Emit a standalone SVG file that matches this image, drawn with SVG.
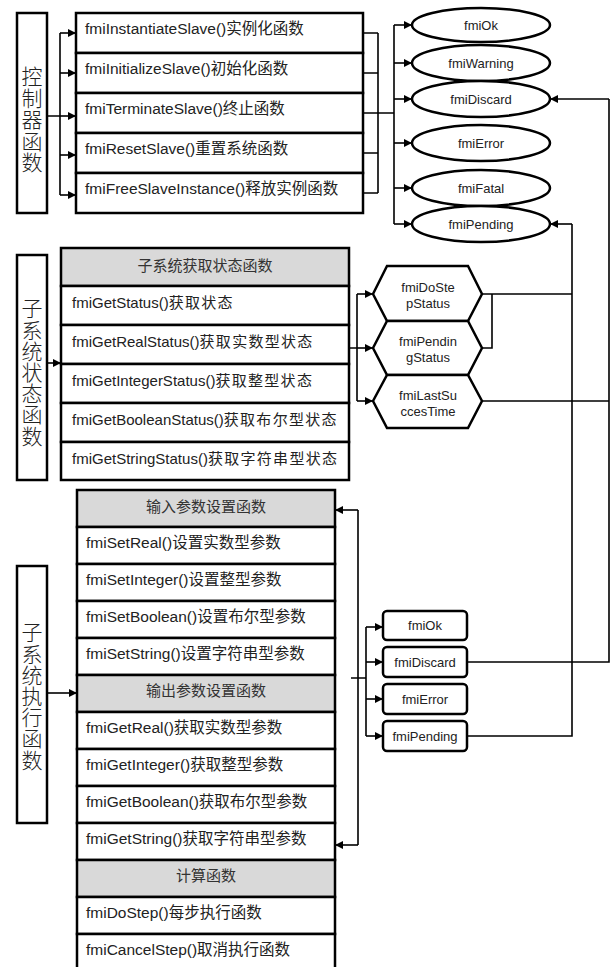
<svg xmlns="http://www.w3.org/2000/svg" width="611" height="967" viewBox="0 0 611 967">
<defs>
<marker id="ar" markerUnits="userSpaceOnUse" markerWidth="9" markerHeight="8" refX="8" refY="4" orient="auto"><path d="M0,0 L8,4 L0,8 z" fill="#000"/></marker>
<style>
.box{fill:#fff;stroke:#000;stroke-width:2.5}
.hd{fill:#d9d9d9;stroke:#000;stroke-width:2.5}
.t{font-family:"Liberation Sans","Noto Sans CJK SC",sans-serif;font-size:15px;fill:#222}
.t1{font-size:15.5px}
.w{letter-spacing:1.3px}
.c{font-family:"Liberation Sans","Noto Sans CJK SC",sans-serif;font-size:15px;fill:#333;text-anchor:middle}
.lab{font-family:"Noto Sans CJK SC",sans-serif;font-size:21px;font-weight:300;fill:#222;writing-mode:vertical-rl}
.s{font-family:"Liberation Sans",sans-serif;font-size:13px;fill:#222;text-anchor:middle}
.ln{fill:none;stroke:#000;stroke-width:1.6}
.la{fill:none;stroke:#000;stroke-width:1.6;marker-end:url(#ar)}
.sh{fill:#fff;stroke:#000;stroke-width:2.5}
</style>
</defs>

<g id="label-ctrl">
<rect class="box" x="17" y="13" width="30" height="200"/>
<text class="lab" x="32" y="66" letter-spacing="0.5">控制器函数</text>
</g>
<g id="ctrl-funcs">
<rect class="box" x="76" y="13" width="287" height="40"/>
<rect class="box" x="76" y="53" width="287" height="40"/>
<rect class="box" x="76" y="93" width="287" height="40"/>
<rect class="box" x="76" y="133" width="287" height="40"/>
<rect class="box" x="76" y="173" width="287" height="40"/>
<text class="t t1" x="85" y="34">fmiInstantiateSlave()实例化函数</text>
<text class="t t1" x="85" y="74">fmiInitializeSlave()初始化函数</text>
<text class="t t1" x="85" y="114">fmiTerminateSlave()终止函数</text>
<text class="t t1" x="85" y="154">fmiResetSlave()重置系统函数</text>
<text class="t t1" x="85" y="194">fmiFreeSlaveInstance()释放实例函数</text>
</g>
<g id="status-ellipses">
<ellipse class="sh" cx="481" cy="25" rx="69" ry="17"/>
<ellipse class="sh" cx="481" cy="63" rx="69" ry="18"/>
<ellipse class="sh" cx="481" cy="99" rx="69" ry="18"/>
<ellipse class="sh" cx="481" cy="143" rx="69" ry="18"/>
<ellipse class="sh" cx="481" cy="188" rx="69" ry="18"/>
<ellipse class="sh" cx="481" cy="224" rx="69" ry="18"/>
<text class="s" x="481" y="30">fmiOk</text>
<text class="s" x="481" y="68">fmiWarning</text>
<text class="s" x="481" y="104">fmiDiscard</text>
<text class="s" x="481" y="148">fmiError</text>
<text class="s" x="481" y="193">fmiFatal</text>
<text class="s" x="481" y="229">fmiPending</text>
</g>

<g id="label-status">
<rect class="box" x="17" y="255" width="30" height="225"/>
<text class="lab" x="32" y="298" letter-spacing="0.2">子系统状态函数</text>
</g>
<g id="status-funcs">
<rect class="hd" x="61" y="248" width="288" height="38"/>
<rect class="box" x="61" y="286" width="288" height="39"/>
<rect class="box" x="61" y="325" width="288" height="39"/>
<rect class="box" x="61" y="364" width="288" height="39"/>
<rect class="box" x="61" y="403" width="288" height="39"/>
<rect class="box" x="61" y="442" width="288" height="38"/>
<text class="c" x="205" y="271">子系统获取状态函数</text>
<text class="t" x="72" y="308">fmiGetStatus()<tspan class="w">获取状态</tspan></text>
<text class="t" x="72" y="347">fmiGetRealStatus()<tspan class="w">获取实数型状态</tspan></text>
<text class="t" x="72" y="386">fmiGetIntegerStatus()<tspan class="w">获取整型状态</tspan></text>
<text class="t" x="72" y="425">fmiGetBooleanStatus()<tspan class="w">获取布尔型状态</tspan></text>
<text class="t" x="72" y="464">fmiGetStringStatus()<tspan class="w">获取字符串型状态</tspan></text>
</g>
<g id="status-hexes">
<path class="sh" d="M373,294 L387,266 L468,266 L482,294 L468,321 L387,321 Z"/>
<path class="sh" d="M373,348 L387,321 L468,321 L482,348 L468,375 L387,375 Z"/>
<path class="sh" d="M373,401 L387,375 L468,375 L482,401 L468,428 L387,428 Z"/>
<text class="s" x="428" y="292">fmiDoSte</text>
<text class="s" x="428" y="308">pStatus</text>
<text class="s" x="428" y="346">fmiPendin</text>
<text class="s" x="428" y="362">gStatus</text>
<text class="s" x="428" y="400">fmiLastSu</text>
<text class="s" x="428" y="416">ccesTime</text>
</g>

<g id="label-exec">
<rect class="box" x="17" y="566" width="30" height="257"/>
<text class="lab" x="32" y="622" letter-spacing="0.2">子系统执行函数</text>
</g>
<g id="exec-funcs">
<rect class="hd" x="77" y="490" width="258" height="37"/>
<rect class="box" x="77" y="527" width="258" height="37"/>
<rect class="box" x="77" y="564" width="258" height="37"/>
<rect class="box" x="77" y="601" width="258" height="37"/>
<rect class="box" x="77" y="638" width="258" height="37"/>
<rect class="hd" x="77" y="675" width="258" height="37"/>
<rect class="box" x="77" y="712" width="258" height="37"/>
<rect class="box" x="77" y="749" width="258" height="37"/>
<rect class="box" x="77" y="786" width="258" height="37"/>
<rect class="box" x="77" y="823" width="258" height="37"/>
<rect class="hd" x="77" y="860" width="258" height="37"/>
<rect class="box" x="77" y="897" width="258" height="37"/>
<rect class="box" x="77" y="934" width="258" height="37"/>
<text class="c" x="206" y="512">输入参数设置函数</text>
<text class="t t1" x="86" y="548">fmiSetReal()设置实数型参数</text>
<text class="t t1" x="86" y="585">fmiSetInteger()设置整型参数</text>
<text class="t t1" x="86" y="622">fmiSetBoolean()设置布尔型参数</text>
<text class="t t1" x="86" y="659">fmiSetString()设置字符串型参数</text>
<text class="c" x="206" y="696">输出参数设置函数</text>
<text class="t t1" x="86" y="733">fmiGetReal()获取实数型参数</text>
<text class="t t1" x="86" y="770">fmiGetInteger()获取整型参数</text>
<text class="t t1" x="86" y="807">fmiGetBoolean()获取布尔型参数</text>
<text class="t t1" x="86" y="844">fmiGetString()获取字符串型参数</text>
<text class="c" x="206" y="881">计算函数</text>
<text class="t t1" x="86" y="918">fmiDoStep()每步执行函数</text>
<text class="t t1" x="86" y="955">fmiCancelStep()取消执行函数</text>
</g>
<g id="exec-status">
<rect class="sh" x="383" y="611" width="84" height="29" rx="4"/>
<rect class="sh" x="383" y="647" width="84" height="30" rx="4"/>
<rect class="sh" x="383" y="684" width="84" height="30" rx="4"/>
<rect class="sh" x="383" y="721" width="84" height="30" rx="4"/>
<text class="s" x="425" y="630">fmiOk</text>
<text class="s" x="425" y="667">fmiDiscard</text>
<text class="s" x="425" y="704">fmiError</text>
<text class="s" x="425" y="741">fmiPending</text>
</g>

<g id="connectors">
<path class="ln" d="M47,116 H60 M60,33 V195"/>
<path class="la" d="M60,33 H76"/>
<path class="la" d="M60,73 H76"/>
<path class="la" d="M60,116 H76"/>
<path class="la" d="M60,155 H76"/>
<path class="la" d="M60,195 H76"/>
<path class="ln" d="M363,33 H378 M363,73 H378 M363,153 H378 M363,193 H378 M378,33 V193 M363,113 H394 M394,25 V224"/>
<path class="la" d="M394,25 H412"/>
<path class="la" d="M394,63 H412"/>
<path class="la" d="M394,99 H412"/>
<path class="la" d="M394,143 H412"/>
<path class="la" d="M394,188 H412"/>
<path class="la" d="M394,224 H412"/>

<path class="la" d="M47,363 H61"/>
<path class="ln" d="M349,348 H357 M357,294 V401"/>
<path class="la" d="M357,294 H373"/>
<path class="la" d="M357,348 H373"/>
<path class="la" d="M357,401 H373"/>
<path class="ln" d="M482,294 H572 M482,348 H492 V294 M482,401 H609"/>

<path class="la" d="M47,693 H77"/>
<path class="ln" d="M358,510 V845 M351,678 H366 M366,627 V736"/>
<path class="la" d="M358,510 H335"/>
<path class="la" d="M358,845 H335"/>
<path class="la" d="M366,627 H383"/>
<path class="la" d="M366,662 H383"/>
<path class="la" d="M366,699 H383"/>
<path class="la" d="M366,736 H383"/>
<path class="ln" d="M467,662 H609 V99"/>
<path class="la" d="M609,99 H550"/>
<path class="ln" d="M467,736 H572 V224"/>
<path class="la" d="M572,224 H550"/>
</g>
</svg>
